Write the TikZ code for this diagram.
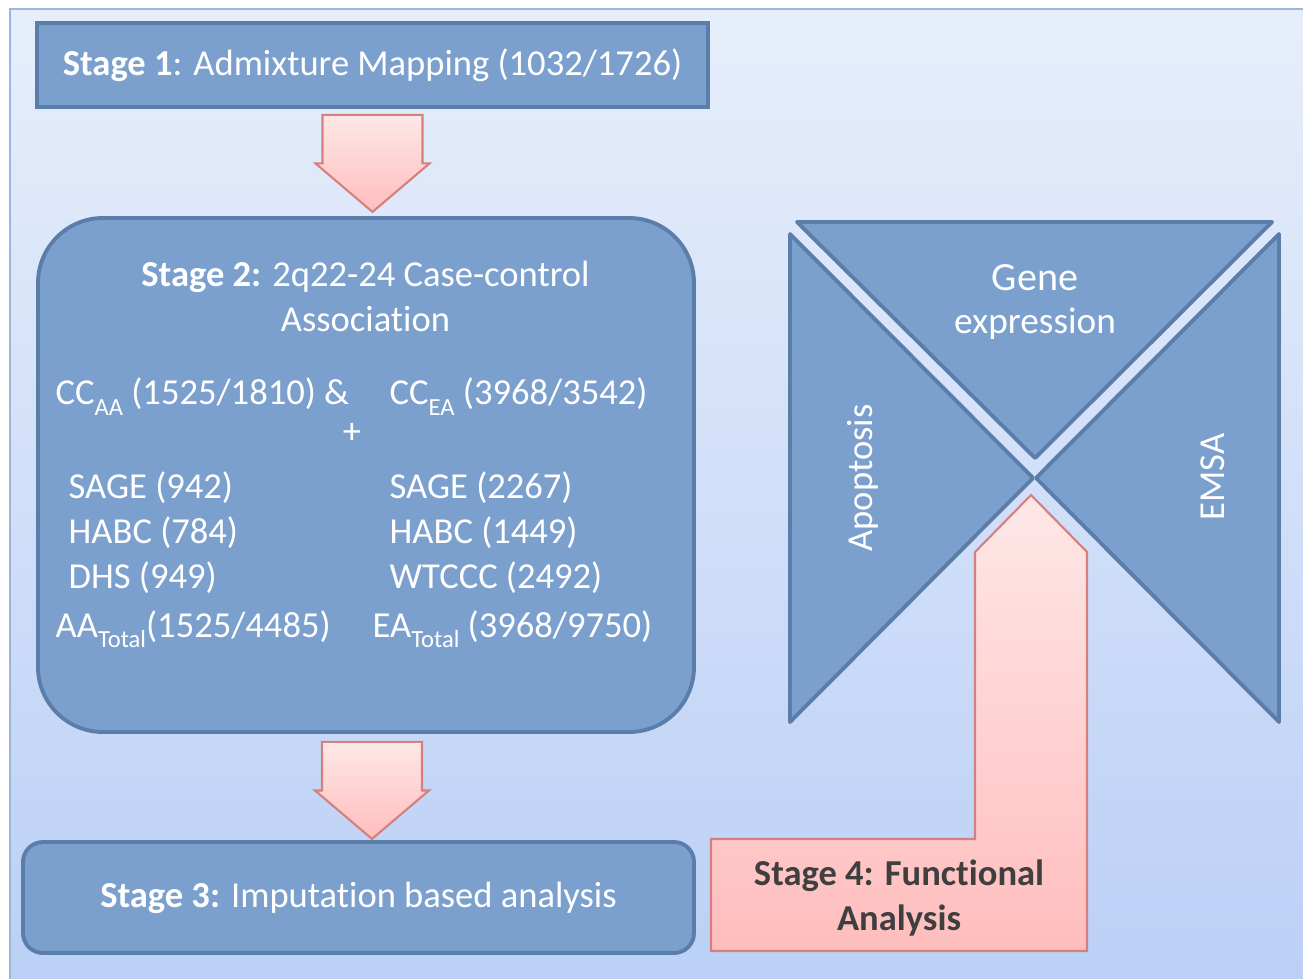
\documentclass[tikz,border=0pt]{standalone}
\usepackage{fontspec}
\setmainfont{Carlito}[Ligatures=NoCommon]
\usetikzlibrary{calc}
\definecolor{frametop}{HTML}{E7EEFB}
\definecolor{framebottom}{HTML}{BACFF6}
\definecolor{framestroke}{HTML}{9DB5D9}
\definecolor{stagefill}{HTML}{7CA0CD}
\definecolor{stagestroke}{HTML}{5B7DAA}
\definecolor{arrowtop}{HTML}{FEE7E7}
\definecolor{arrowbottom}{HTML}{FFBDBD}
\definecolor{arrowstroke}{HTML}{D6807E}
\definecolor{darktext}{HTML}{3F3F3F}
\newcommand{\lowsub}[1]{\raisebox{-3pt}{\fontsize{7}{8}\selectfont #1}}
\tikzset{
  stagebox/.style={
    rectangle,
    draw=stagestroke,
    fill=stagefill,
    line width=1.1pt,
    inner sep=0pt,
    text=white,
    align=center,
    font=\fontsize{10.4}{12.6}\selectfont
  },
  facet/.style={
    draw=stagestroke,
    fill=stagefill,
    line width=1.1pt,
    line join=round
  },
  blockarrow/.style={
    draw=arrowstroke,
    line width=0.6pt,
    top color=arrowtop,
    bottom color=arrowbottom
  },
  txt/.style={
    inner sep=0pt,
    text=white,
    font=\fontsize{10.4}{12.6}\selectfont
  }
}

\begin{document}
\begin{tikzpicture}[x=1cm,y=1cm]
  \useasboundingbox (0,0) rectangle (13.03,9.78);
  \clip (0,0) rectangle (13.03,9.78);
  \path[fill=white] (0,0) rectangle (13.03,9.78);
  \path[draw=framestroke,line width=0.7pt,top color=frametop,bottom color=framebottom]
    (0.10,9.69) rectangle (13.30,-0.30);

  % Stages 1-3 on the left.
  \node[stagebox,minimum width=6.71cm,minimum height=0.84cm] (s1) at (3.725,9.13)
    {\textbf{Stage 1}: Admixture Mapping (1032/1726)};
  \node[stagebox,rounded corners=0.65cm,minimum width=6.56cm,minimum height=5.14cm]
    (s2) at (3.66,5.03) {};
  \node[stagebox,rounded corners=0.2cm,minimum width=6.71cm,minimum height=1.11cm]
    (s3) at (3.585,0.805) {\textbf{Stage 3:} Imputation based analysis};

  \node[txt,anchor=base] (s2title) at (3.655,6.915) {\textbf{Stage 2:} 2q22-24 Case-control};
  \node[txt,anchor=base] (s2assoc) at (3.655,6.465) {Association};
  \node[txt,anchor=base west] (ccaa) at (0.55,5.735) {CC\lowsub{AA} (1525/1810) \&};
  \node[txt,anchor=base west] (ccea) at (3.89,5.735) {CC\lowsub{EA} (3968/3542)};
  \node[txt] (plus) at (3.52,5.45) {+};
  \node[txt,anchor=base west] (sageaa) at (0.68,4.80) {SAGE (942)};
  \node[txt,anchor=base west] (habcaa) at (0.68,4.35) {HABC (784)};
  \node[txt,anchor=base west] (dhs) at (0.68,3.90) {DHS (949)};
  \node[txt,anchor=base west] (sageea) at (3.89,4.80) {SAGE (2267)};
  \node[txt,anchor=base west] (habcea) at (3.89,4.35) {HABC (1449)};
  \node[txt,anchor=base west] (wtccc) at (3.89,3.90) {WTCCC (2492)};
  \node[txt,anchor=base west] (aatot) at (0.55,3.41) {AA\lowsub{Total}(1525/4485)};
  \node[txt,anchor=base west] (eatot) at (3.72,3.41) {EA\lowsub{Total} (3968/9750)};

  % Block arrows between the stages.
  \path[blockarrow] ([xshift=-0.50cm,yshift=-0.06cm]s1.south) -- ++(0,-0.485)
    -- ++(-0.07,0) -- ++(0.57,-0.485) -- ++(0.57,0.485) -- ++(-0.07,0) -- ++(0,0.485) -- cycle;
  \path[blockarrow] ([xshift=-0.44cm,yshift=-0.08cm]s2.south) -- ++(0,-0.485)
    -- ++(-0.07,0) -- ++(0.57,-0.485) -- ++(0.57,0.485) -- ++(-0.07,0) -- ++(0,0.485) -- cycle;

  % Functional analysis: three facets and the bent arrow.
  \path[facet] (7.97,7.56) -- (12.72,7.56) -- (10.35,5.20) -- cycle;
  \path[facet] (7.90,7.44) -- (10.33,5.00) -- (7.90,2.56) -- cycle;
  \path[facet] (12.79,7.44) -- (10.36,5.00) -- (12.79,2.56) -- cycle;
  \node[txt,anchor=base,font=\fontsize{11.4}{13}\selectfont] (gene) at (10.35,6.88) {Gene};
  \node[txt,anchor=base,font=\fontsize{10.6}{12.6}\selectfont] (expr) at (10.35,6.45) {expression};
  \node[txt,rotate=90] (apop) at (8.63,5.00) {Apoptosis};
  \node[txt,rotate=90] (emsa) at (12.125,5.01) {EMSA};

  \path[blockarrow] (7.11,0.27) -- (7.11,1.39) -- (9.75,1.39) -- (9.75,4.26) -- (9.78,4.29)
    -- (10.31,4.83) -- (10.84,4.29) -- (10.87,4.26) -- (10.87,0.27) -- cycle;
  \node[txt,anchor=base,text=darktext,font=\fontsize{10.4}{12.6}\selectfont\bfseries]
    (s4a) at (8.99,0.93) {Stage 4: Functional};
  \node[txt,anchor=base,text=darktext,font=\fontsize{10.4}{12.6}\selectfont\bfseries]
    (s4b) at (8.99,0.48) {Analysis};
\end{tikzpicture}
\end{document}
